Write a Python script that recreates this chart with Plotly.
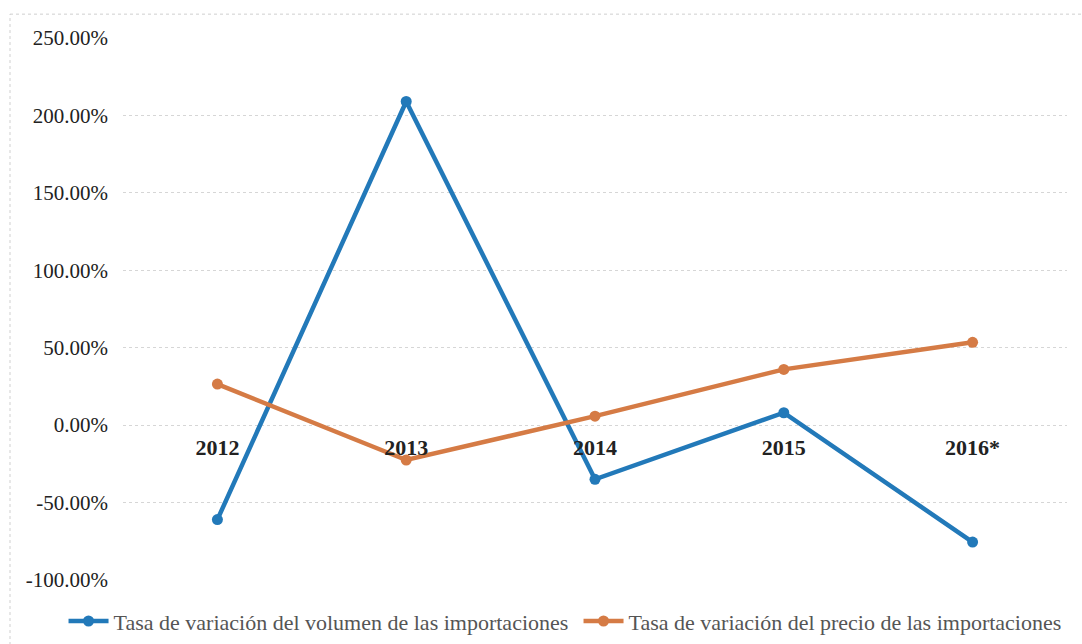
import plotly.graph_objects as go

years = ["2012", "2013", "2014", "2015", "2016*"]
volumen = [-61.0, 209.0, -35.0, 8.0, -75.5]
precio = [26.5, -22.5, 5.8, 36.0, 53.5]
y_ticks = [250, 200, 150, 100, 50, 0, -50, -100]
y_tick_labels = ["250.00%", "200.00%", "150.00%", "100.00%", "50.00%", "0.00%", "-50.00%", "-100.00%"]

name_vol = "Tasa de variación del volumen de las importaciones"
name_pre = "Tasa de variación del precio de las importaciones"

blue = "#2279b9"
orange = "#d57b45"
serif = "Liberation Serif, Times New Roman, serif"

fig = go.Figure()
fig.add_trace(go.Scatter(x=years, y=volumen, name=name_vol, mode="lines+markers",
                         line=dict(color=blue, width=4.5),
                         marker=dict(color=blue, size=11)))
fig.add_trace(go.Scatter(x=years, y=precio, name=name_pre, mode="lines+markers",
                         line=dict(color=orange, width=4.5),
                         marker=dict(color=orange, size=11)))

fig.update_layout(
    width=1082, height=644,
    margin=dict(l=123, r=15, t=38, b=64, autoexpand=False),
    paper_bgcolor="white", plot_bgcolor="white",
    font=dict(family=serif, size=18, color="#333333"),
    showlegend=True,
    legend=dict(orientation="h", xref="paper", yref="paper",
                x=-0.063, xanchor="left", y=-0.076, yanchor="middle",
                font=dict(family=serif, size=22, color="#555555"),
                itemwidth=40, tracegroupgap=0, entrywidth=460, entrywidthmode="pixels"),
    xaxis=dict(type="category", range=[-0.5, 4.5], anchor="free", position=100/350,
               showgrid=False, zeroline=False, showline=False, ticks="",
               ticklabelstandoff=7,
               tickfont=dict(family=serif, size=22, color="#222222", weight="bold")),
    yaxis=dict(range=[-100, 250], tickvals=y_ticks, ticktext=y_tick_labels,
               showgrid=True, gridcolor="#d6d6d6", griddash="dot", gridwidth=1,
               zeroline=False, showline=False, ticks="", ticklabelstandoff=14,
               tickfont=dict(family=serif, size=21, color="#222222")),
    shapes=[
        dict(type="line", xref="paper", yref="paper", x0=-0.1197, x1=1.02, y0=1.044, y1=1.044,
             line=dict(color="#cfcfcf", width=1, dash="dot")),
        dict(type="line", xref="paper", yref="paper", x0=-0.1197, x1=-0.1197, y0=-0.12, y1=1.044,
             line=dict(color="#cfcfcf", width=1, dash="dot")),
    ],
)

fig.write_html("out.html", config={"displayModeBar": False},
               post_script="document.body.style.margin='0';")
